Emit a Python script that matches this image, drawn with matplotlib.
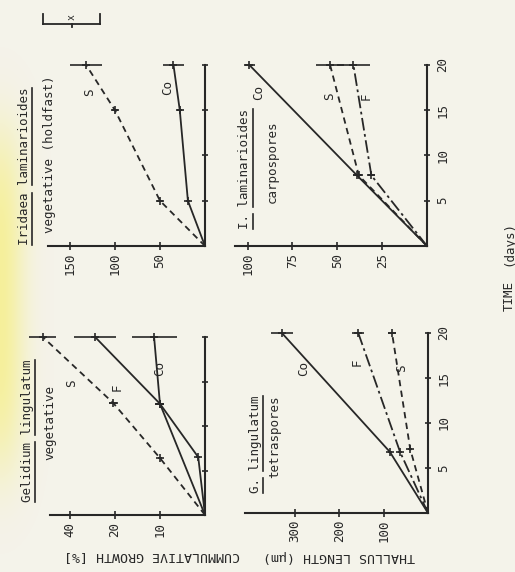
import matplotlib
matplotlib.use("Agg")
import matplotlib.pyplot as plt
from matplotlib.lines import Line2D
import numpy as np

# scanned page is turned 90 deg: time runs upward, the measured value grows to the left
W, H = 515, 572
INK = "#272727"
PAPER = "#f4f3ea"
plt.rcParams["font.family"] = ["DejaVu Sans Mono", "DejaVu Sans"]

# Iridaea laminarioides, vegetative (holdfast) -- cumulative growth (%)
iv_days = [0, 5, 15, 20]
iv_S = [0, 50, 100, 132]
iv_S_err = [0, 3, 3, 18]
iv_Co = [0, 19, 28, 35]
iv_Co_err = [0, 2, 3, 12]
iv_ticks = [50, 100, 150]

# I. laminarioides, carpospores -- thallus length (um)
ic_days = [0, 7.8, 20]
ic_Co = [0, 39, 99]
ic_Co_err = [0, 2, 3]
ic_S = [0, 38, 54]
ic_S_err = [0, 2, 8]
ic_F = [0, 31, 41]
ic_F_err = [0, 2, 9]
ic_ticks = [25, 50, 75, 100]

# Gelidium lingulatum, vegetative -- cumulative growth (%)
gv_S_days = [0, 6.4, 12.6, 20]
gv_S = [0, 10, 20.4, 36]
gv_S_err = [0, 0.5, 1, 3]
gv_F_days = [0, 12.5, 20]
gv_F = [0, 10, 24.4]
gv_F_err = [0, 1, 4.7]
gv_Co_days = [0, 6.5, 12.5, 20]
gv_Co = [0, 1.5, 10, 11.3]
gv_Co_err = [0, 0.5, 1, 5]
gv_ticks = [10, 20, 30]
gv_ticklabels = ["10", "20", "40"]  # printed like this on the original

# G. lingulatum, tetraspores -- thallus length (um)
gt_days = [0, 6.8, 20]
gt_Co = [0, 86, 329]
gt_Co_err = [0, 5, 25]
gt_F = [0, 63, 157]
gt_F_err = [0, 5, 13]
gt_S_days = [0, 7.1, 20]
gt_S = [0, 40, 81]
gt_S_err = [0, 4, 10]
gt_ticks = [100, 200, 300]

time_ticks = [5, 10, 15, 20]

STYLE = {"S": (0, (3.5, 2.5)), "F": (0, (7, 2, 1.5, 2)), "Co": "-"}

fig = plt.figure(figsize=(W / 100, H / 100), dpi=100)
fig.patch.set_facecolor(PAPER)

# faint yellow stain along the left edge of the scan
bg = fig.add_axes([0, 0, 1, 1], zorder=-5)
bg.set_axis_off()
xx = np.arange(W)[None, :]
yy = np.arange(H)[:, None]
stain = 0.55 * np.exp(-(xx / 24.0) ** 2) * np.exp(-((yy - 300) / 170.0) ** 4)
rgba = np.zeros((H, W, 4))
rgba[..., 0], rgba[..., 1], rgba[..., 2] = 0.97, 0.93, 0.35
rgba[..., 3] = stain
bg.imshow(rgba, extent=(0, W, H, 0), aspect="auto")
bg.set_xlim(0, W)
bg.set_ylim(H, 0)


def px_rect(left, right, bottom, top):
    return [left / W, 1 - bottom / H, (right - left) / W, (bottom - top) / H]


def panel(rect, vmax, ticks, ticklabels=None, time_labels=False):
    ax = fig.add_axes(rect)
    ax.set_facecolor("none")
    ax.set_xlim(vmax, 0)
    ax.set_ylim(0, 20)
    ax.spines["top"].set_visible(False)
    ax.spines["left"].set_visible(False)
    for side in ("bottom", "right"):
        ax.spines[side].set_color(INK)
        ax.spines[side].set_linewidth(1.5)
    ax.yaxis.tick_right()
    ax.set_xticks(ticks, ticklabels if ticklabels else [str(t) for t in ticks])
    ax.set_yticks(time_ticks)
    ax.tick_params(axis="x", direction="inout", length=6, width=1.2, colors=INK,
                   labelrotation=90, labelsize=9, pad=2)
    ax.tick_params(axis="y", direction="inout", length=5, width=1.2, colors=INK,
                   labelrotation=90, labelsize=9, pad=4, labelright=time_labels)
    for lab in ax.get_yticklabels():
        lab.set_va("center")
    return ax


def series(ax, days, vals, errs, kind, label, lx, ly):
    ax.plot(vals, days, color=INK, lw=1.3, linestyle=STYLE[kind], clip_on=False)
    eb = ax.errorbar(vals[1:], days[1:], xerr=errs[1:], fmt="+", ms=6, mew=1.2,
                     color=INK, ecolor=INK, elinewidth=1.2, capsize=0)
    for art in eb.get_children():
        art.set_clip_on(False)
    ax.text(lx, ly, label, rotation=90, ha="center", va="center",
            fontsize=9, color=INK)


# Iridaea vegetative
ax = panel(px_rect(48, 205, 246, 65), 174.4, iv_ticks)
series(ax, iv_days, iv_S, iv_S_err, "S", "S", 128, 17)
series(ax, iv_days, iv_Co, iv_Co_err, "Co", "Co", 42, 17.5)

# Iridaea carpospores
ax = panel(px_rect(235, 427, 246, 65), 107, ic_ticks, time_labels=True)
series(ax, ic_days, ic_Co, ic_Co_err, "Co", "Co", 94, 17)
series(ax, ic_days, ic_S, ic_S_err, "S", "S", 54, 16.5)
series(ax, ic_days, ic_F, ic_F_err, "F", "F", 34, 16.5)

# Gelidium vegetative
ax = panel(px_rect(50, 205, 515, 337), 34.4, gv_ticks, gv_ticklabels)
series(ax, gv_S_days, gv_S, gv_S_err, "S", "S", 29.5, 14.8)
series(ax, gv_F_days, gv_F, gv_F_err, "Co", "F", 19.5, 14.3)
series(ax, gv_Co_days, gv_Co, gv_Co_err, "Co", "Co", 10, 16.5)

# Gelidium tetraspores
ax = panel(px_rect(245, 428, 513, 333), 412, gt_ticks, time_labels=True)
series(ax, gt_days, gt_Co, gt_Co_err, "Co", "Co", 281, 16.1)
series(ax, gt_days, gt_F, gt_F_err, "F", "F", 160, 16.8)
series(ax, gt_S_days, gt_S, gt_S_err, "S", "S", 59, 16.1)

# panel titles, rotated like the rest of the page
titles = [
    (24, 245, "Iridaea laminarioides", True),
    (50, 233, "vegetative (holdfast)", False),
    (245, 229, "I. laminarioides", True),
    (272, 203, "carpospores", False),
    (27, 502, "Gelidium lingulatum", True),
    (50, 460, "vegetative", False),
    (255, 493, "G. lingulatum", True),
    (275, 478, "tetraspores", False),
]
title_texts = []
for x, y, s, under in titles:
    t = fig.text(x / W, 1 - y / H, s, rotation=90, rotation_mode="anchor",
                 ha="left", va="center", fontsize=9, color=INK)
    title_texts.append((t, s, under))

fig.text(152 / W, 1 - 556 / H, "CUMMULATIVE GROWTH [%]", rotation=180,
         ha="center", va="center", fontsize=9.5, color=INK)
fig.text(339 / W, 1 - 557 / H, "THALLUS LENGTH (\u00b5m)", rotation=180,
         ha="center", va="center", fontsize=9.5, color=INK)
fig.text(509 / W, 1 - 296 / H, "TIME", rotation=90, ha="center", va="center",
         fontsize=9, color=INK)
fig.text(509 / W, 1 - 243 / H, "(days)", rotation=90, ha="center", va="center",
         fontsize=9, color=INK)

# underline each word of the species names
renderer = fig.canvas.get_renderer()
to_fig = fig.transFigure.inverted()
for t, s, under in title_texts:
    if not under:
        continue
    bb = t.get_window_extent(renderer)
    step = (bb.y1 - bb.y0) / len(s)
    pos = 0
    for word in s.split(" "):
        a = to_fig.transform((bb.x1 + 1, bb.y0 + pos * step))
        b = to_fig.transform((bb.x1 + 1, bb.y0 + (pos + len(word)) * step))
        fig.add_artist(Line2D([a[0], b[0]], [a[1], b[1]], color=INK, lw=1.2))
        pos += len(word) + 1


# error-bar key in the top corner
def fline(xs, ys, lw=1.3):
    fig.add_artist(Line2D([x / W for x in xs], [1 - y / H for y in ys],
                          color=INK, lw=lw))


fline([43, 100], [24, 24])
fline([43, 43], [14, 24])
fline([100, 100], [14, 24])
fline([72, 72], [24, 27])
fig.text(72 / W, 1 - 17 / H, "x", rotation=90, ha="center", va="center",
         fontsize=7, color=INK)

fig.savefig("out.png", dpi=100, facecolor=PAPER)
